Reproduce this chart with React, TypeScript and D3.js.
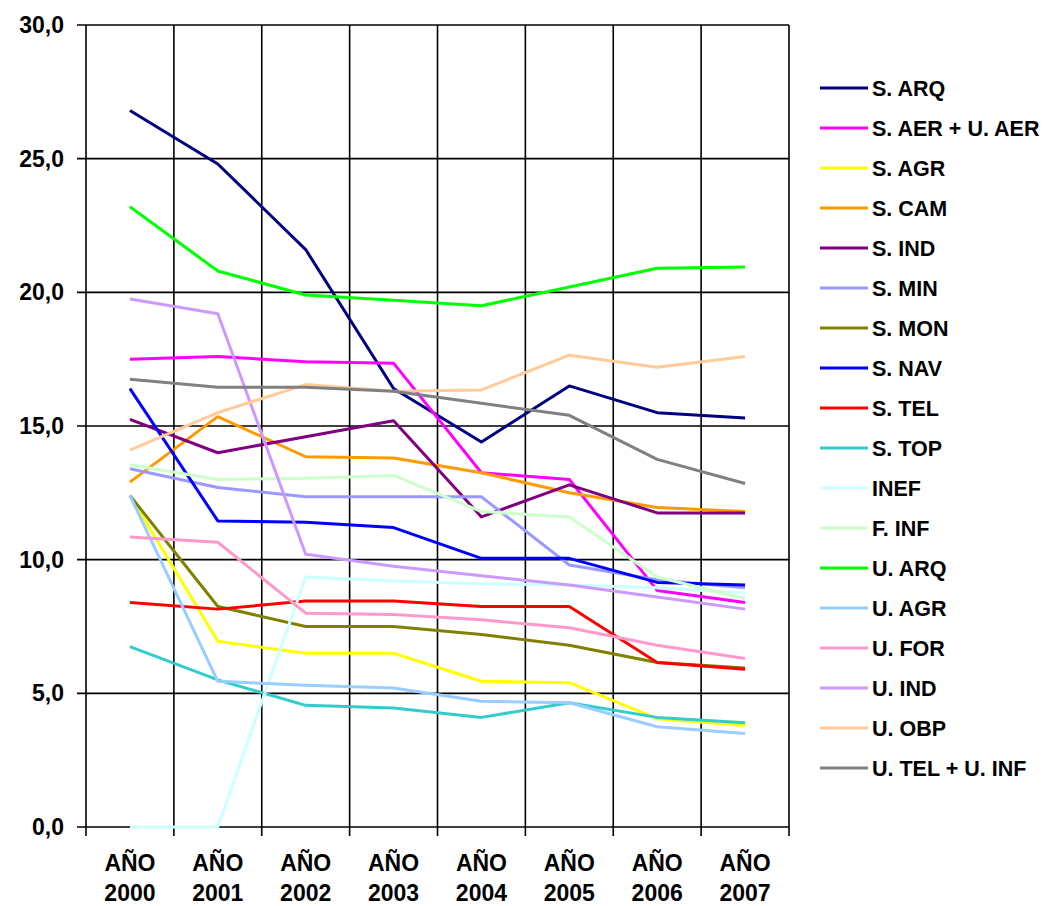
import React from 'react';
import * as d3 from 'd3';

const years = ['2000', '2001', '2002', '2003', '2004', '2005', '2006', '2007'];
const yTicks = [0, 5, 10, 15, 20, 25, 30];

const seriesNames = [
  'S. ARQ', 'S. AER + U. AER', 'S. AGR', 'S. CAM', 'S. IND', 'S. MIN', 'S. MON', 'S. NAV', 'S. TEL',
  'S. TOP', 'INEF', 'F. INF', 'U. ARQ', 'U. AGR', 'U. FOR', 'U. IND', 'U. OBP', 'U. TEL + U. INF',
];
const seriesColors = [
  '#000080', '#ff00ff', '#ffff00', '#ff9900', '#800080', '#9999ff', '#808000', '#0000ff', '#ff0000',
  '#33cccc', '#ccffff', '#ccffcc', '#00ff00', '#99ccff', '#ff99cc', '#cc99ff', '#ffcc99', '#808080',
];

const sArq = [26.8, 24.8, 21.6, 16.4, 14.4, 16.5, 15.5, 15.3];
const sAer = [17.5, 17.6, 17.4, 17.35, 13.25, 13.0, 8.85, 8.4];
const sAgr = [12.4, 6.95, 6.5, 6.5, 5.45, 5.4, 4.05, 3.8];
const sCam = [12.9, 15.35, 13.85, 13.8, 13.25, 12.5, 11.95, 11.8];
const sInd = [15.25, 14.0, 14.6, 15.2, 11.6, 12.8, 11.75, 11.75];
const sMin = [13.4, 12.7, 12.35, 12.35, 12.35, 9.8, 9.25, 8.95];
const sMon = [12.4, 8.25, 7.5, 7.5, 7.2, 6.8, 6.15, 5.95];
const sNav = [16.4, 11.45, 11.4, 11.2, 10.05, 10.05, 9.15, 9.05];
const sTel = [8.4, 8.15, 8.45, 8.45, 8.25, 8.25, 6.15, 5.9];
const sTop = [6.75, 5.5, 4.55, 4.45, 4.1, 4.65, 4.1, 3.9];
const inef = [0, 0, 9.35, 9.2, 9.1, 9.05, 8.95, 8.75];
const fInf = [13.55, 13.0, 13.05, 13.15, 11.8, 11.6, 9.35, 8.55];
const uArq = [23.2, 20.8, 19.9, 19.7, 19.5, 20.2, 20.9, 20.95];
const uAgr = [12.4, 5.45, 5.3, 5.2, 4.7, 4.65, 3.75, 3.5];
const uFor = [10.85, 10.65, 8.0, 7.95, 7.75, 7.45, 6.8, 6.3];
const uInd = [19.75, 19.2, 10.2, 9.75, 9.4, 9.05, 8.6, 8.15];
const uObp = [14.1, 15.5, 16.55, 16.3, 16.35, 17.65, 17.2, 17.6];
const uTel = [16.75, 16.45, 16.45, 16.3, 15.85, 15.4, 13.75, 12.85];

const seriesValues = [
  sArq, sAer, sAgr, sCam, sInd, sMin, sMon, sNav, sTel,
  sTop, inef, fInf, uArq, uAgr, uFor, uInd, uObp, uTel,
];

const width = 1047;
const height = 906;
const margin = { top: 25, right: 258, bottom: 79, left: 86 };
const font = '"Liberation Sans", Arial, sans-serif';

export default function App() {
  const x = d3.scaleBand<string>()
    .domain(years)
    .range([margin.left, width - margin.right]);
  const y = d3.scaleLinear()
    .domain([0, 30])
    .range([height - margin.bottom, margin.top]);

  const line = d3.line<number>()
    .x((_, i) => (x(years[i]) as number) + x.bandwidth() / 2)
    .y(d => y(d));

  const bounds = years.map(yr => x(yr) as number).concat([width - margin.right]);
  const bottom = height - margin.bottom;

  return (
    <svg width={width} height={height} style={{ position: 'absolute', left: 0, top: 0, background: '#fff' }}>
      {/* horizontal grid + y ticks */}
      {yTicks.map(t => (
        <g key={t}>
          <line x1={margin.left - 9} x2={width - margin.right} y1={y(t)} y2={y(t)} stroke="#000" strokeWidth={1.6} />
          <text x={64} y={y(t)} dy="0.35em" textAnchor="end" fontFamily={font} fontWeight="bold" fontSize={23} fill="#000">
            {d3.format('.1f')(t).replace('.', ',')}
          </text>
        </g>
      ))}
      {/* vertical grid + x ticks */}
      {bounds.map((bx, i) => (
        <line key={i} x1={bx} x2={bx} y1={margin.top} y2={bottom + 9} stroke="#000" strokeWidth={1.6} />
      ))}
      {years.map(yr => {
        const cx = (x(yr) as number) + x.bandwidth() / 2;
        return (
          <g key={yr} fontFamily={font} fontWeight="bold" fontSize={23} fill="#000" textAnchor="middle">
            <text x={cx} y={871}>AÑO</text>
            <text x={cx} y={901}>{yr}</text>
          </g>
        );
      })}
      {/* series */}
      {seriesValues.map((vals, i) => (
        <path key={seriesNames[i]} d={line(vals) || ''} fill="none" stroke={seriesColors[i]} strokeWidth={3} strokeLinejoin="round" />
      ))}
      {/* legend */}
      {seriesNames.map((name, i) => {
        const ly = 88 + i * 40;
        return (
          <g key={name}>
            <line x1={820} x2={868} y1={ly} y2={ly} stroke={seriesColors[i]} strokeWidth={3} />
            <text x={872} y={ly} dy="0.36em" fontFamily={font} fontWeight="bold" fontSize={21.5} fill="#000">{name}</text>
          </g>
        );
      })}
    </svg>
  );
}
